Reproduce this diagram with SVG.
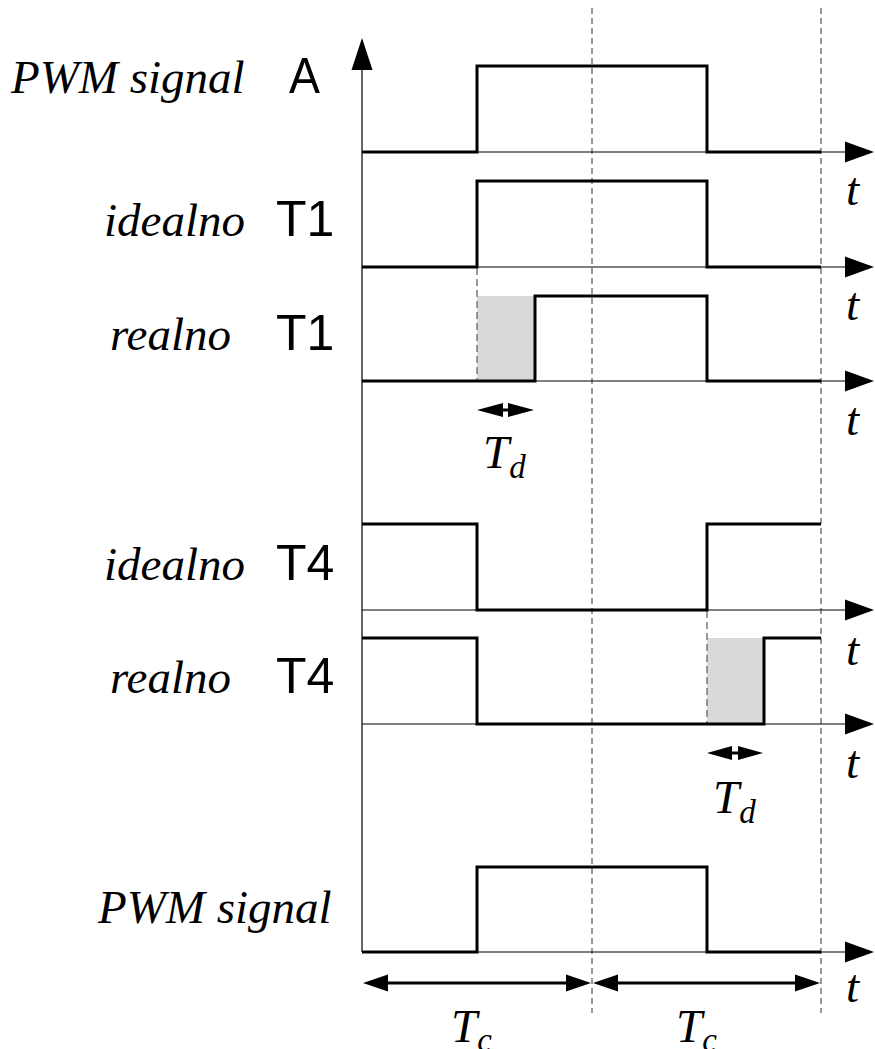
<svg xmlns="http://www.w3.org/2000/svg" width="875" height="1049" viewBox="0 0 875 1049">
<style>
.ax{stroke:#000;stroke-width:1.2;fill:none}
.sig{stroke:#000;stroke-width:3;fill:none;stroke-linejoin:miter}
.grid{stroke:#333;stroke-width:1;stroke-dasharray:6,4;fill:none}
.gd{stroke:#666;stroke-width:1.3;stroke-dasharray:7,4;fill:none}
.gray{fill:#d9d9d9;stroke:none}
.it{font-family:"Liberation Serif","Times New Roman",serif;font-style:italic;font-size:47px;fill:#000}
.sans{font-family:"Liberation Sans",Arial,sans-serif;font-size:50px;fill:#000}
.ah{fill:#000}
</style>
<g id="grid">
<line class="grid" x1="592" y1="8" x2="592" y2="1013"/>
<line class="grid" x1="821" y1="8" x2="821" y2="1013"/>
</g>
<g id="shading">
<rect class="gray" x="477" y="296" width="58" height="85"/>
<rect class="gray" x="707" y="638" width="57" height="86"/>
<line class="gd" x1="477" y1="268" x2="477" y2="381"/>
<line class="gd" x1="707" y1="611" x2="707" y2="724"/>
</g>
<g id="connectors">
<line class="ax" x1="362" y1="60" x2="362" y2="952"/>
<polygon class="ah" points="362,38 351.5,70 372.5,70"/>
<line class="ax" x1="362" y1="152" x2="848" y2="152"/>
<polygon class="ah" points="874,152 845,141.5 845,162.5"/>
<line class="ax" x1="362" y1="267" x2="848" y2="267"/>
<polygon class="ah" points="874,267 845,256.5 845,277.5"/>
<line class="ax" x1="362" y1="381" x2="848" y2="381"/>
<polygon class="ah" points="874,381 845,370.5 845,391.5"/>
<line class="ax" x1="362" y1="610" x2="848" y2="610"/>
<polygon class="ah" points="874,610 845,599.5 845,620.5"/>
<line class="ax" x1="362" y1="724" x2="848" y2="724"/>
<polygon class="ah" points="874,724 845,713.5 845,734.5"/>
<line class="ax" x1="362" y1="952" x2="848" y2="952"/>
<polygon class="ah" points="874,952 845,941.5 845,962.5"/>
<!-- Td arrows -->
<polygon class="ah" points="477,410 503,403 503,417"/>
<rect x="502" y="408.5" width="7" height="3" class="ah"/>
<polygon class="ah" points="534,410 508,403 508,417"/>
<polygon class="ah" points="707,753 732,746 732,760"/>
<rect x="731" y="751.5" width="7" height="3" class="ah"/>
<polygon class="ah" points="763,753 738,746 738,760"/>
<!-- Tc arrows -->
<line x1="380" y1="983" x2="572" y2="983" stroke="#000" stroke-width="3"/>
<polygon class="ah" points="363,983 388,974.5 388,991.5"/>
<polygon class="ah" points="591,983 566,974.5 566,991.5"/>
<line x1="610" y1="983" x2="802" y2="983" stroke="#000" stroke-width="3"/>
<polygon class="ah" points="593,983 618,974.5 618,991.5"/>
<polygon class="ah" points="820,983 795,974.5 795,991.5"/>
</g>
<g id="signal-A">
<polyline class="sig" points="362,152 477,152 477,66 707,66 707,152 821,152"/>
<text class="it" x="11" y="93">PWM signal</text>
<text class="sans" x="289" y="93" font-size="35" textLength="31" lengthAdjust="spacingAndGlyphs">A</text>
</g>
<g id="ideal-T1">
<polyline class="sig" points="362,267 477,267 477,181 707,181 707,267 821,267"/>
<text class="it" x="104" y="236">idealno</text>
<text class="sans" x="276" y="236">T1</text>
</g>
<g id="real-T1">
<polyline class="sig" points="362,381 535,381 535,296 707,296 707,381 821,381"/>
<text class="it" x="110" y="350">realno</text>
<text class="sans" x="276" y="350">T1</text>
</g>
<g id="ideal-T4">
<polyline class="sig" points="362,524 477,524 477,610 707,610 707,524 821,524"/>
<text class="it" x="104" y="580">idealno</text>
<text class="sans" x="276" y="580">T4</text>
</g>
<g id="real-T4">
<polyline class="sig" points="362,638 477,638 477,724 764,724 764,638 821,638"/>
<text class="it" x="110" y="693">realno</text>
<text class="sans" x="276" y="693">T4</text>
</g>
<g id="signal-PWM">
<polyline class="sig" points="362,952 477,952 477,867 707,867 707,952 821,952"/>
<text class="it" x="98" y="923">PWM signal</text>
</g>
<g id="labels">
<text class="it" x="483" y="468">T<tspan font-size="33" dy="10">d</tspan></text>
<text class="it" x="713" y="813">T<tspan font-size="33" dy="10">d</tspan></text>
<text class="it" x="451" y="1042">T<tspan font-size="33" dy="9">c</tspan></text>
<text class="it" x="676" y="1042">T<tspan font-size="33" dy="9">c</tspan></text>
<text class="it" x="846" y="205" font-size="40">t</text>
<text class="it" x="846" y="320" font-size="40">t</text>
<text class="it" x="846" y="435" font-size="40">t</text>
<text class="it" x="846" y="665" font-size="40">t</text>
<text class="it" x="846" y="778" font-size="40">t</text>
<text class="it" x="846" y="1002" font-size="40">t</text>
</g>
</svg>
